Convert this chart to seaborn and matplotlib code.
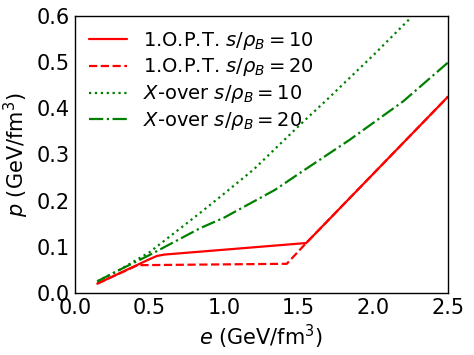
import numpy as np
import pandas as pd
import matplotlib
matplotlib.use("Agg")
import matplotlib.pyplot as plt
import seaborn as sns

# Data
e_opt10 = [0.15, 0.50, 0.55, 0.60, 1.55, 2.50]
p_opt10 = [0.020, 0.073, 0.080, 0.083, 0.108, 0.425]

e_opt20 = [0.15, 0.42, 1.42, 1.55, 2.50]
p_opt20 = [0.020, 0.060, 0.063, 0.108, 0.425]

e_x10 = [0.15, 0.30, 0.50, 0.838, 1.00, 1.20, 1.508, 1.687, 2.00, 2.241]
p_x10 = [0.025, 0.050, 0.088, 0.173, 0.215, 0.268, 0.364, 0.418, 0.515, 0.593]

e_x20 = [0.15, 0.30, 0.50, 0.838, 1.00, 1.34, 1.50, 1.843, 2.20, 2.50]
p_x20 = [0.025, 0.050, 0.082, 0.140, 0.163, 0.223, 0.258, 0.332, 0.415, 0.499]

labels = [r"1.O.P.T. $s/\rho_B=10$", r"1.O.P.T. $s/\rho_B=20$",
          r"$X$-over $s/\rho_B=10$", r"$X$-over $s/\rho_B=20$"]

series = [(e_opt10, p_opt10), (e_opt20, p_opt20), (e_x10, p_x10), (e_x20, p_x20)]
colors = ["#ff0000", "#ff0000", "#008000", "#008000"]
styles = ["-", "--", ":", "-."]

sns.set_style("white")
plt.rcParams["font.family"] = ["DejaVu Sans"]
plt.rcParams["text.color"] = "black"
plt.rcParams["axes.labelcolor"] = "black"

fig = plt.figure(figsize=(4.74, 3.55), dpi=100)
ax = fig.add_axes([0.158, 0.175, 0.787, 0.780])

for (ex, py), lab, c, ls in zip(series, labels, colors, styles):
    df = pd.DataFrame({"e": ex, "p": py})
    sns.lineplot(data=df, x="e", y="p", ax=ax, color=c, linestyle=ls,
                 linewidth=1.6, label=lab, sort=False)

ax.set_xlim(0, 2.5)
ax.set_ylim(0, 0.6)
ax.set_xticks([0.0, 0.5, 1.0, 1.5, 2.0, 2.5])
ax.set_yticks([0.0, 0.1, 0.2, 0.3, 0.4, 0.5, 0.6])
ax.tick_params(direction="in", length=4, labelsize=15, colors="black")
ax.set_xlabel(r"$e$ (GeV/fm$^3$)", fontsize=15, color="black")
ax.set_ylabel(r"$p$ (GeV/fm$^3$)", fontsize=15, color="black")
for s in ax.spines.values():
    s.set_color("black")
    s.set_linewidth(1.0)

leg = ax.legend(loc="upper left", frameon=False, fontsize=14, handlelength=2.0,
                borderaxespad=0.3, labelspacing=0.25)
for t in leg.get_texts():
    t.set_color("black")

fig.savefig("out.png", dpi=100)
